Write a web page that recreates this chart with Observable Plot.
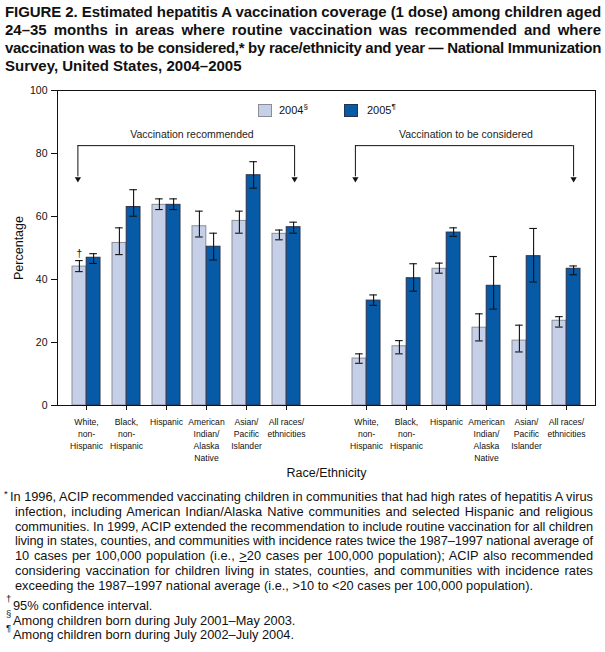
<!DOCTYPE html>
<html><head><meta charset="utf-8">
<script src="https://cdn.jsdelivr.net/npm/d3@7"></script>
<script src="https://cdn.jsdelivr.net/npm/@observablehq/plot@0.6"></script>
<style>
body{margin:0;background:#fff;font-family:"Liberation Sans",Arial,sans-serif;color:#111;width:605px;height:652px;position:relative;overflow:hidden;}
.ln{position:absolute;white-space:nowrap;}
.tt{font-weight:bold;font-size:15px;line-height:18px;left:5px;}
.fn{font-size:12.8px;line-height:14px;}
.sym{position:absolute;font-size:9.5px;line-height:10px;}
#chart{position:absolute;left:0;top:80px;}
.lg{position:absolute;font-size:11px;line-height:14px;white-space:nowrap;}
.sq{position:absolute;width:12px;height:11px;}
sup{font-size:8px;vertical-align:0;position:relative;top:-5px;}
</style></head>
<body>
<div id="title"></div>
<div id="chart"></div>
<div id="notes"></div>
<script>
// ---- data ----
const categories = ["White, non-Hispanic","Black, non-Hispanic","Hispanic","American Indian/Alaska Native","Asian/Pacific Islander","All races/ethnicities"];
const tickLabels = ["White,\nnon-\nHispanic","Black,\nnon-\nHispanic","Hispanic","American\nIndian/\nAlaska\nNative","Asian/\nPacific\nIslander","All races/\nethnicities"];
const years = ["2004","2005"];
// Vaccination recommended
const rec2004   = [44.1, 51.6, 63.7, 56.9, 58.6, 54.5];
const rec2004Lo = [42.5, 47.9, 62.2, 53.5, 54.7, 52.6];
const rec2004Hi = [46.0, 56.4, 65.6, 61.7, 61.7, 55.7];
const rec2005   = [46.9, 63.0, 63.7, 50.4, 73.1, 56.6];
const rec2005Lo = [45.1, 60.1, 62.2, 46.2, 69.0, 54.7];
const rec2005Hi = [48.2, 68.5, 65.6, 54.7, 77.4, 58.2];
// Vaccination to be considered
const con2004   = [14.9, 18.8, 43.4, 24.7, 20.6, 26.9];
const con2004Lo = [13.4, 16.4, 42.0, 20.5, 17.0, 24.9];
const con2004Hi = [16.4, 20.6, 45.2, 29.1, 25.5, 28.2];
const con2005   = [33.3, 40.4, 54.9, 38.0, 47.4, 43.4];
const con2005Lo = [31.8, 36.3, 53.7, 30.6, 39.2, 41.5];
const con2005Hi = [35.1, 45.0, 56.4, 47.3, 56.2, 44.3];
const groupLabels = ["Vaccination recommended","Vaccination to be considered"];
const yTicks = [0,20,40,60,80,100];

const titleLines = [
 "FIGURE 2. Estimated hepatitis A vaccination coverage (1 dose) among children aged",
 "24–35 months in areas where routine vaccination was recommended and where",
 "vaccination was to be considered,* by race/ethnicity and year — National Immunization",
 "Survey, United States, 2004–2005"
];
const noteLines = [
 "In 1996, ACIP recommended vaccinating children in communities that had high rates of hepatitis A virus",
 "infection, including American Indian/Alaska Native communities and selected Hispanic and religious",
 "communities. In 1999, ACIP extended the recommendation to include routine vaccination for all children",
 "living in states, counties, and communities with incidence rates twice the 1987–1997 national average of",
 "10 cases per 100,000 population (i.e., <u>&gt;</u>20 cases per 100,000 population); ACIP also recommended",
 "considering vaccination for children living in states, counties, and communities with incidence rates",
 "exceeding the 1987–1997 national average (i.e., &gt;10 to &lt;20 cases per 100,000 population)."
];
const symNotes = [["†","95% confidence interval."],["§","Among children born during July 2001–May 2003."],["¶","Among children born during July 2002–July 2004."]];

// ---- colours ----
const c04 = "#c5d0e8", s04 = "#8a8d96", c05 = "#075aa6", s05 = "#28324a";

// ---- rows ----
const keys = [...categories.map((c,i)=>"R"+i), "gap", ...categories.map((c,i)=>"C"+i)];
const rows = [];
const sets = [["R",rec2004,rec2004Lo,rec2004Hi,rec2005,rec2005Lo,rec2005Hi],["C",con2004,con2004Lo,con2004Hi,con2005,con2005Lo,con2005Hi]];
for (const [p,a,alo,ahi,b,blo,bhi] of sets) {
  categories.forEach((c,i)=>{
    rows.push({key:p+i, category:c, year:"2004", v:a[i], lo:alo[i], hi:ahi[i]});
    rows.push({key:p+i, category:c, year:"2005", v:b[i], lo:blo[i], hi:bhi[i]});
  });
}
const d04 = rows.filter(d=>d.year==="2004"), d05 = rows.filter(d=>d.year==="2005");

const W = 605, ML = 57, MR = 10;
const xOpts = {type:"band", domain: keys, paddingInner: 0.3, paddingOuter: 0.28};
let bw, step;
try { const xs = Plot.scale({x:{...xOpts, range:[ML, W-MR]}}); bw = xs.bandwidth; step = xs.step; } catch(e) {}
if (!bw) { step = (W-ML-MR)/(keys.length - 0.3 + 0.56); bw = step*0.7; }
const q = bw/4, cap = 4;

const brackets = [
  {from:"R0", to:"R5", label: groupLabels[0], lOff:1.5, rOff:1, tOff:4},
  {from:"C0", to:"C5", label: groupLabels[1], lOff:4, rOff:0, tOff:-2}
];
const bracketMarks = [];
for (const b of brackets) {
  bracketMarks.push(
    Plot.ruleY([b], {x1:"from", x2:"to", y:()=>82.5, insetLeft: q - b.lOff, insetRight: q - b.rOff, stroke:"#111"}),
    Plot.ruleX([b], {x:"from", y1:()=>82.5, y2:()=>72.6, dx: -q - b.lOff, stroke:"#111"}),
    Plot.ruleX([b], {x:"to", y1:()=>82.5, y2:()=>72.6, dx: q + b.rOff, stroke:"#111"}),
    Plot.dot([b], {x:"from", y:()=>71.9, dx: -q - b.lOff, symbol:"triangle", rotate:180, r:2.3, fill:"#111", stroke:"none"}),
    Plot.dot([b], {x:"to", y:()=>71.9, dx: q + b.rOff, symbol:"triangle", rotate:180, r:2.3, fill:"#111", stroke:"none"}),
    Plot.text([b], {x:"from", y:()=>86.1, dx: 2.5*step + b.tOff, text:"label", fontSize:10.5, fill:"#222"})
  );
}

const chart = Plot.plot({
  width: W, height: 405, marginLeft: ML, marginRight: MR, marginTop: 10, marginBottom: 80,
  style: {fontFamily:"'Liberation Sans', Arial, sans-serif", fontSize:"10px", color:"#111", background:"transparent", overflow:"visible"},
  x: {...xOpts, axis: null},
  y: {domain:[0,100], axis: null},
  marks: [
    Plot.barY(d04, {x:"key", y:"v", fill:c04, stroke:s04, strokeWidth:1, insetRight: bw/2}),
    Plot.barY(d05, {x:"key", y:"v", fill:c05, stroke:s05, strokeWidth:1, insetLeft: bw/2}),
    Plot.ruleX(d04, {x:"key", y1:"lo", y2:"hi", dx:-q, stroke:"#111", strokeWidth:1.1}),
    Plot.ruleX(d05, {x:"key", y1:"lo", y2:"hi", dx:q, stroke:"#111", strokeWidth:1.1}),
    Plot.tickY(d04, {x:"key", y:"lo", insetLeft:q-cap, insetRight:bw-q-cap, stroke:"#111", strokeWidth:1.1}),
    Plot.tickY(d04, {x:"key", y:"hi", insetLeft:q-cap, insetRight:bw-q-cap, stroke:"#111", strokeWidth:1.1}),
    Plot.tickY(d05, {x:"key", y:"lo", insetLeft:3*q-cap, insetRight:q-cap, stroke:"#111", strokeWidth:1.1}),
    Plot.tickY(d05, {x:"key", y:"hi", insetLeft:3*q-cap, insetRight:q-cap, stroke:"#111", strokeWidth:1.1}),
    Plot.text([d04[0]], {x:"key", y:"hi", dx:-q, dy:-7, text:()=>"†", fontSize:10, fill:"#111"}),
    Plot.frame({stroke:"#111", strokeWidth:1}),
    Plot.axisY({ticks: yTicks, tickSize:6, tickPadding:4, fontSize:10.5, label:null, stroke:"#111"}),
    Plot.axisX({ticks: keys.filter(k=>k!=="gap"), tickFormat: k=>tickLabels[+k.slice(1)], tickSize:5, tickPadding:6, fontSize:8.6, lineHeight:1.38, label:null, stroke:"#111"}),
    Plot.text(["Percentage"], {frameAnchor:"left", dx:-39, rotate:-90, text:d=>d, fontSize:12.5, textAnchor:"middle", lineAnchor:"middle", fill:"#111"}),
    Plot.text(["Race/Ethnicity"], {frameAnchor:"bottom", dy:67, text:d=>d, fontSize:12.5, textAnchor:"middle", lineAnchor:"middle", fill:"#111"}),
    ...bracketMarks
  ]
});
const chartDiv = document.getElementById("chart");
chartDiv.appendChild(chart);

// legend
const lg = [
  {left:258, label:"2004", sup:"§", fill:c04, stroke:s04, tl:279},
  {left:344, label:"2005", sup:"¶", fill:c05, stroke:s05, tl:367}
];
for (const l of lg) {
  const sq = document.createElement("div"); sq.className="sq";
  sq.style.left = l.left+"px"; sq.style.top = "24px"; sq.style.background = l.fill; sq.style.border = "1px solid "+l.stroke;
  chartDiv.appendChild(sq);
  const t = document.createElement("div"); t.className="lg";
  t.style.left = l.tl+"px"; t.style.top = "23px";
  t.innerHTML = l.label + "<sup>" + l.sup + "</sup>";
  chartDiv.appendChild(t);
}

// justify helper: stretch spaces, or tighten letters if too long
function justify(el, target) {
  el.style.wordSpacing = "0px"; el.style.letterSpacing = "0px";
  const w = el.getBoundingClientRect().width;
  const txt = el.textContent;
  const n = (txt.match(/ /g)||[]).length;
  if (w <= target) { if (n) el.style.wordSpacing = ((target - w)/n) + "px"; }
  else {
    el.style.letterSpacing = ((target - w)/txt.length) + "px";
    const w2 = el.getBoundingClientRect().width;
    if (n) el.style.wordSpacing = ((target - w2)/n) + "px";
  }
}
const title = document.getElementById("title");
titleLines.forEach((t,i)=>{
  const d = document.createElement("div"); d.className="ln tt"; d.textContent = t;
  d.style.top = (3 + 18*i) + "px";
  title.appendChild(d);
  if (i < titleLines.length-1) justify(d, 596);
});
const notes = document.getElementById("notes");
const star = document.createElement("div"); star.className="sym"; star.textContent="*"; star.style.left="4px"; star.style.top="489px"; notes.appendChild(star);
noteLines.forEach((t,i)=>{
  const d = document.createElement("div"); d.className="ln fn"; d.innerHTML = t;
  const cy = 497 + 14.8*i;
  d.style.top = (cy-7) + "px"; d.style.left = (i===0 ? 10 : 15) + "px";
  notes.appendChild(d);
  if (i < noteLines.length-1) justify(d, 593 - (i===0?10:15));
});
symNotes.forEach(([s,t],i)=>{
  const cy = 606 + 14.5*i;
  const sy = document.createElement("div"); sy.className="sym"; sy.textContent=s; sy.style.left="6px"; sy.style.top=(cy-12)+"px"; notes.appendChild(sy);
  const d = document.createElement("div"); d.className="ln fn"; d.textContent = t; d.style.top=(cy-7)+"px"; d.style.left="13px"; notes.appendChild(d);
});
</script>
</body></html>
